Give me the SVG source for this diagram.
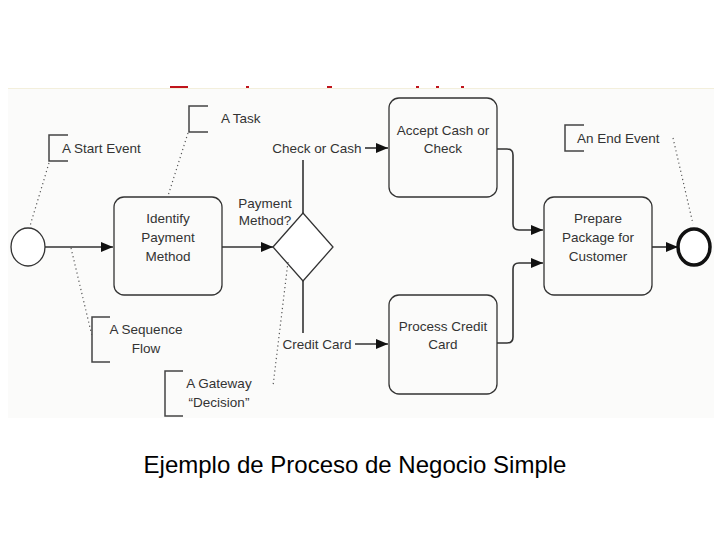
<svg xmlns="http://www.w3.org/2000/svg" width="720" height="540" viewBox="0 0 720 540">
<style>
.t{font-family:"Liberation Sans",Arial,sans-serif;font-size:13.5px;fill:#333;text-anchor:middle}
.ts{font-family:"Liberation Sans",Arial,sans-serif;font-size:13.5px;fill:#333}
.box{fill:none;stroke:#333;stroke-width:1.3}
.flow{fill:none;stroke:#333;stroke-width:1.6}
.dot{fill:none;stroke:#555;stroke-width:1.2;stroke-dasharray:1.2 3}
.br{fill:none;stroke:#444;stroke-width:1.5}
.cap{font-family:"Liberation Sans",Arial,sans-serif;font-size:24px;fill:#000;text-anchor:middle}
</style>
<defs>
<marker id="ah" viewBox="0 0 12 10" refX="12" refY="5" markerWidth="12" markerHeight="10" markerUnits="userSpaceOnUse" orient="auto">
<path d="M0,0 L12,5 L0,10 Z" fill="#111"/>
</marker>
</defs>
<rect width="720" height="540" fill="#fff"/>
<g id="title-slivers" fill="#c0141c">
<rect x="170" y="86" width="18" height="2.5"/>
<rect x="246" y="86" width="3" height="2.5"/>
<rect x="327" y="86" width="5" height="2.5"/>
<rect x="416" y="86" width="3" height="2.5"/>
<rect x="436" y="86" width="3" height="2.5"/>
<rect x="461" y="86" width="3" height="2.5"/>
</g>
<rect id="picture-bg" x="8" y="88" width="706" height="330" fill="#fbfbfa"/>
<line x1="8" y1="88.5" x2="714" y2="88.5" stroke="#f3efdc" stroke-width="1"/>

<g id="connectors">
<line class="flow" x1="45" y1="247" x2="113" y2="247" marker-end="url(#ah)"/>
<line class="flow" x1="222" y1="247" x2="273" y2="247" marker-end="url(#ah)"/>
<line class="flow" x1="303" y1="213" x2="303" y2="160"/>
<line class="flow" x1="365" y1="148" x2="388" y2="148" marker-end="url(#ah)"/>
<line class="flow" x1="303" y1="281" x2="303" y2="333"/>
<line class="flow" x1="355" y1="344" x2="388" y2="344" marker-end="url(#ah)"/>
<path class="flow" d="M497,149 H507 Q513,149 513,155 V224 Q513,230 519,230 H543" marker-end="url(#ah)"/>
<path class="flow" d="M497,343 H507 Q513,343 513,337 V269 Q513,263 519,263 H543" marker-end="url(#ah)"/>
<line class="flow" x1="652" y1="247" x2="678" y2="247" marker-end="url(#ah)"/>
</g>

<g id="start-event"><ellipse cx="28" cy="247" rx="17" ry="19" fill="#fff" stroke="#333" stroke-width="1.3"/></g>

<g id="task-identify">
<rect class="box" x="114" y="197" width="108" height="98" rx="10" fill="#fff"/>
<text class="t" x="168" y="223">Identify</text>
<text class="t" x="168" y="242">Payment</text>
<text class="t" x="168" y="261">Method</text>
</g>

<g id="gateway">
<path d="M273,247 L303,213 L333,247 L303,281 Z" fill="#fff" stroke="#333" stroke-width="1.3"/>
<text class="t" x="265" y="208">Payment</text>
<text class="t" x="265" y="225">Method?</text>
</g>

<g id="label-check"><text class="t" x="317" y="153">Check or Cash</text></g>
<g id="label-credit"><text class="t" x="317" y="349">Credit Card</text></g>

<g id="task-accept">
<rect class="box" x="389" y="98" width="108" height="99" rx="10" fill="#fff"/>
<text class="t" x="443" y="135">Accept Cash or</text>
<text class="t" x="443" y="153">Check</text>
</g>

<g id="task-process">
<rect class="box" x="389" y="295" width="108" height="99" rx="10" fill="#fff"/>
<text class="t" x="443" y="331">Process Credit</text>
<text class="t" x="443" y="349">Card</text>
</g>

<g id="task-prepare">
<rect class="box" x="544" y="197" width="108" height="98" rx="10" fill="#fff"/>
<text class="t" x="598" y="223">Prepare</text>
<text class="t" x="598" y="242">Package for</text>
<text class="t" x="598" y="261">Customer</text>
</g>

<g id="end-event"><ellipse cx="694" cy="247" rx="16" ry="18" fill="#fff" stroke="#111" stroke-width="3.5"/></g>

<g id="ann-start">
<path class="br" d="M68,135 H49 V161 H68"/>
<text class="ts" x="62" y="153">A Start Event</text>
<line class="dot" x1="49" y1="163" x2="30" y2="226"/>
</g>
<g id="ann-task">
<path class="br" d="M208,106 H189 V132 H208"/>
<text class="ts" x="221" y="123">A Task</text>
<line class="dot" x1="188" y1="133" x2="168" y2="196"/>
</g>
<g id="ann-end">
<path class="br" d="M584,125 H565 V151 H584"/>
<text class="ts" x="577" y="143">An End Event</text>
<line class="dot" x1="673" y1="138" x2="693" y2="224"/>
</g>
<g id="ann-seq">
<path class="br" d="M110,317 H92 V362 H110"/>
<text class="t" x="146" y="334">A Sequence</text>
<text class="t" x="146" y="353">Flow</text>
<line class="dot" x1="71" y1="248" x2="92" y2="336"/>
</g>
<g id="ann-gw">
<path class="br" d="M183,371 H165 V416 H183"/>
<text class="t" x="219" y="388">A Gateway</text>
<text class="t" x="219" y="407">“Decision”</text>
<line class="dot" x1="288" y1="262" x2="273" y2="386"/>
</g>

<g id="caption"><text class="cap" x="355" y="473">Ejemplo de Proceso de Negocio Simple</text></g>
</svg>
